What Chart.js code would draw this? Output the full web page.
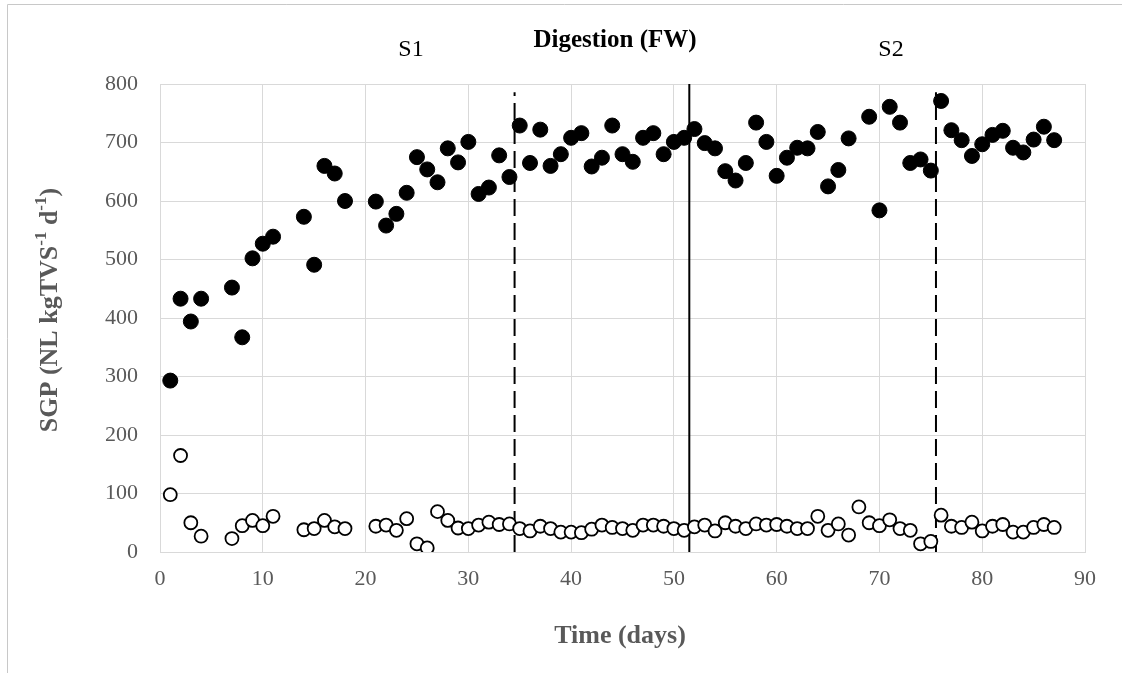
<!doctype html>
<html lang="en">
<head>
  <meta charset="utf-8">
  <title>SGP over time</title>
  <script src="https://cdn.jsdelivr.net/npm/chart.js@4"></script>
  <style>
    html, body { margin: 0; padding: 0; background: #fff; }
    #wrap { width: 1122px; height: 673px; position: relative; }
  </style>
</head>
<body>
<div id="wrap">
  <canvas id="chart" width="1122" height="673"></canvas>
</div>

<script>
  // sampling days (same for both series)
  const days = [1, 2, 3, 4, 7, 8, 9, 10, 11, 14, 15, 16, 17, 18,
    21, 22, 23, 24, 25, 26, 27, 28, 29, 30, 31, 32, 33, 34, 35, 36, 37, 38, 39, 40,
    41, 42, 43, 44, 45, 46, 47, 48, 49, 50, 51, 52, 53, 54, 55, 56, 57, 58, 59, 60,
    61, 62, 63, 64, 65, 66, 67, 68, 69, 70, 71, 72, 73, 74, 75, 76, 77, 78, 79, 80,
    81, 82, 83, 84, 85, 86, 87]

  // filled circles
  const sgpFilled = [293, 433, 394, 433, 452, 367, 502, 527, 539, 573, 491, 660, 647, 600,
    599, 558, 578, 614, 675, 654, 632, 690, 666, 701, 612, 623, 678, 641, 729, 665, 722, 660, 680, 708,
    716, 659, 674, 729, 680, 667, 708, 716, 680, 701, 708, 723, 699, 690, 651, 635, 665, 734, 701, 643,
    674, 691, 690, 718, 625, 653, 707, null, 744, 584, 761, 734, 665, 671, 652, 771, 721, 704, 677, 697,
    713, 720, 691, 683, 705, 727, 704]

  // open circles
  const sgpOpen = [98, 165, 50, 27, 23, 45, 54, 45, 61, 38, 40, 54, 43, 40,
    44, 46, 37, 57, 14, 7, 69, 54, 41, 40, 46, 51, 47, 48, 40, 36, 44, 40, 34, 34,
    33, 39, 46, 42, 40, 37, 46, 46, 44, 40, 37, 43, 46, 36, 50, 44, 40, 48, 46, 47,
    44, 40, 40, 61, 37, 48, 29, 77, 50, 45, 55, 40, 37, 14, 18, 63, 44, 42, 51, 36,
    44, 47, 34, 34, 42, 47, 42]

  // phase boundaries (day) and their labels
  const phaseLines = [
    { day: 34.5, top: 786, dashed: true },
    { day: 51.5, top: 800, dashed: false },
    { day: 75.5, top: 786, dashed: true }
  ]
  const xTicks = { min: 0, max: 90, step: 10 }
  const yTicks = { min: 0, max: 800, step: 100 }

  const serif = '"Liberation Serif", "Times New Roman", serif'
  const grey = '#595959'

  const toPoints = vals => days.map((d, i) => ({ x: d, y: vals[i] })).filter(p => p.y !== null)

  const lineSets = phaseLines.map(p => ({
    data: [{ x: p.day, y: 0 }, { x: p.day, y: p.top }],
    showLine: true,
    borderColor: '#000',
    borderWidth: 2,
    borderDash: p.dashed ? [17, 7] : [],
    pointRadius: 0,
    order: 5
  }))

  // titles, labels and outer frame
  const decor = {
    id: 'decor',
    beforeDraw(chart) {
      const c = chart.ctx
      c.save()
      c.strokeStyle = '#c8c8c8'
      c.lineWidth = 1
      c.beginPath()
      c.moveTo(7.5, 673)
      c.lineTo(7.5, 4.5)
      c.lineTo(1122, 4.5)
      c.stroke()
      c.restore()
    },
    afterDraw(chart) {
      const c = chart.ctx
      c.save()
      c.fillStyle = '#000'
      c.textAlign = 'center'
      c.textBaseline = 'middle'
      c.font = '24px ' + serif
      c.fillText('S1', 411, 50)
      c.fillText('S2', 891, 50)
      c.font = 'bold 25px ' + serif
      c.fillText('Digestion (FW)', 615, 41)

      c.fillStyle = grey
      c.font = 'bold 26px ' + serif
      c.fillText('Time (days)', 620, 636)

      // y title with superscripts
      const parts = [
        { t: 'SGP (NL kgTVS', sup: false },
        { t: '-1', sup: true },
        { t: ' d', sup: false },
        { t: '-1', sup: true },
        { t: ')', sup: false }
      ]
      const big = 'bold 26px ' + serif
      const small = 'bold 17px ' + serif
      let total = 0
      for (const p of parts) {
        c.font = p.sup ? small : big
        p.w = c.measureText(p.t).width
        total += p.w
      }
      c.translate(50, 310)
      c.rotate(-Math.PI / 2)
      c.textAlign = 'left'
      let x = -total / 2
      for (const p of parts) {
        c.font = p.sup ? small : big
        c.fillText(p.t, x, p.sup ? -8 : 0)
        x += p.w
      }
      c.restore()
    }
  }

  new Chart(document.getElementById('chart'), {
    type: 'scatter',
    data: {
      datasets: [
        {
          label: 'filled',
          data: toPoints(sgpFilled),
          backgroundColor: '#000',
          borderColor: '#000',
          borderWidth: 1,
          pointRadius: 7.5,
          order: 2
        },
        {
          label: 'open',
          data: toPoints(sgpOpen),
          backgroundColor: '#fff',
          borderColor: '#000',
          borderWidth: 1.8,
          pointRadius: 6.5,
          order: 1
        },
        ...lineSets
      ]
    },
    options: {
      responsive: false,
      animation: false,
      layout: { padding: { left: 0, right: 37, top: 84, bottom: 0 } },
      plugins: {
        legend: { display: false },
        tooltip: { enabled: false }
      },
      scales: {
        x: {
          type: 'linear',
          min: xTicks.min,
          max: xTicks.max,
          afterFit(scale) { scale.height = 121 },
          grid: { color: '#d9d9d9', drawTicks: false },
          border: { color: '#d9d9d9' },
          ticks: {
            stepSize: xTicks.step,
            padding: 14,
            color: grey,
            font: { family: serif, size: 22 }
          }
        },
        y: {
          min: yTicks.min,
          max: yTicks.max,
          afterFit(scale) { scale.width = 160 },
          grid: { color: '#d9d9d9', drawTicks: false },
          border: { color: '#d9d9d9' },
          ticks: {
            stepSize: yTicks.step,
            padding: 22,
            color: grey,
            font: { family: serif, size: 22 }
          }
        }
      }
    },
    plugins: [decor]
  })
</script>
</body>
</html>
